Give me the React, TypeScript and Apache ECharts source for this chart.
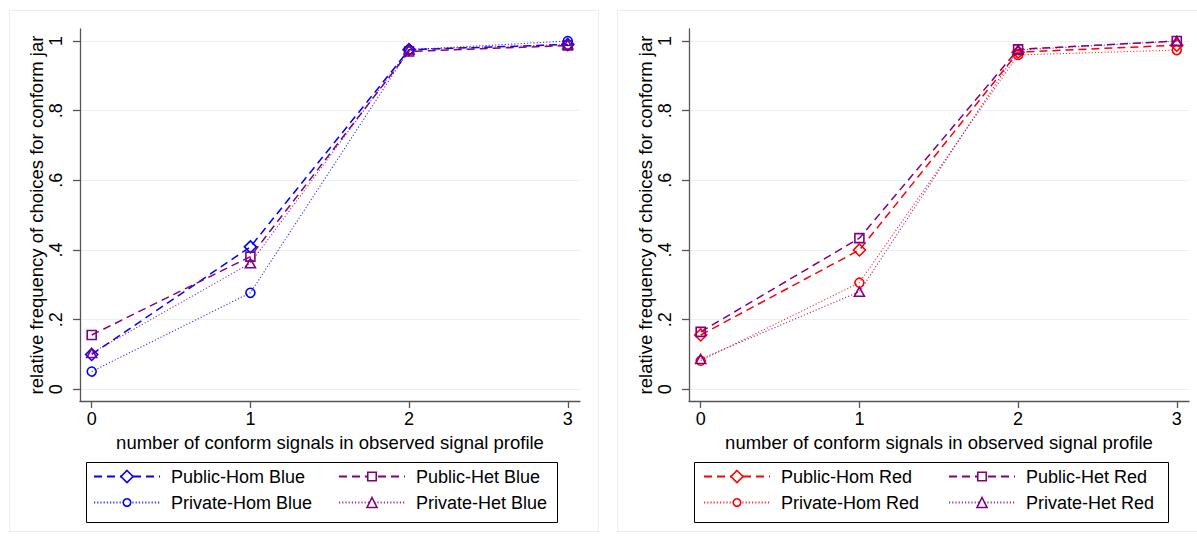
import React, { useEffect, useRef } from "react";
import * as echarts from "echarts";

// x positions (number of conform signals)
const xValues = [0, 1, 2, 3];
const xTicks = [0, 1, 2, 3];
const yTicks = [0, 0.2, 0.4, 0.6, 0.8, 1];

// Left panel (Blue)
const pubHomBlue = [0.1, 0.409, 0.975, 0.99];
const pubHetBlue = [0.156, 0.381, 0.97, 0.987];
const privHomBlue = [0.051, 0.277, 0.975, 1.0];
const privHetBlue = [0.104, 0.362, 0.976, 0.99];

// Right panel (Red)
const pubHomRed = [0.156, 0.4, 0.968, 0.988];
const pubHetRed = [0.165, 0.434, 0.976, 1.0];
const privHomRed = [0.082, 0.306, 0.96, 0.974];
const privHetRed = [0.087, 0.28, 0.974, 1.0];

const BLUE = "#0000ff";
const RED = "#ff0000";
const PURPLE = "#800080";
const FONT = "Liberation Sans, Arial, sans-serif";

const xTitle = "number of conform signals in observed signal profile";
const yTitle = "relative frequency of choices for conform jar";

type SDef = {
  name: string;
  values: number[];
  color: string;
  dash: "dash" | "dot";
  symbol: string;
  size: number | number[];
  legendSize: number;
  panel: number;
  row: number;
  col: number;
};

const seriesDefs: SDef[] = [
  { name: "Public-Hom Blue", values: pubHomBlue, color: BLUE, dash: "dash", symbol: "diamond", size: 12, legendSize: 12, panel: 0, row: 0, col: 0 },
  { name: "Public-Het Blue", values: pubHetBlue, color: PURPLE, dash: "dash", symbol: "rect", size: 9, legendSize: 8.5, panel: 0, row: 0, col: 1 },
  { name: "Private-Hom Blue", values: privHomBlue, color: BLUE, dash: "dot", symbol: "circle", size: 9, legendSize: 7.5, panel: 0, row: 1, col: 0 },
  { name: "Private-Het Blue", values: privHetBlue, color: PURPLE, dash: "dot", symbol: "triangle", size: [10, 9], legendSize: 10, panel: 0, row: 1, col: 1 },
  { name: "Public-Hom Red", values: pubHomRed, color: RED, dash: "dash", symbol: "diamond", size: 12, legendSize: 12, panel: 1, row: 0, col: 0 },
  { name: "Public-Het Red", values: pubHetRed, color: PURPLE, dash: "dash", symbol: "rect", size: 9, legendSize: 8.5, panel: 1, row: 0, col: 1 },
  { name: "Private-Hom Red", values: privHomRed, color: RED, dash: "dot", symbol: "circle", size: 9, legendSize: 7.5, panel: 1, row: 1, col: 0 },
  { name: "Private-Het Red", values: privHetRed, color: PURPLE, dash: "dot", symbol: "triangle", size: [10, 9], legendSize: 10, panel: 1, row: 1, col: 1 },
];

const panels = [
  { gridLeft: 80, legendBox: [86, 462, 471, 60], legendCols: [93, 338], border: 9 },
  { gridLeft: 689, legendBox: [694, 462, 474, 60], legendCols: [703, 948], border: 617 },
];
const legendRows = [478, 504];

const yFmt = (v: number) => {
  if (Math.abs(v) < 1e-9) return "0";
  if (Math.abs(v - 1) < 1e-9) return "1";
  return "." + Math.round(v * 10);
};

export default function App() {
  const ref = useRef<HTMLDivElement>(null);
  useEffect(() => {
    if (!ref.current) return;
    const chart = echarts.init(ref.current, null, { renderer: "svg" });
    const axisLine = { show: true, onZero: false, lineStyle: { color: "#555", width: 1.3 } };
    const grids = panels.map((p) => ({ left: p.gridLeft, top: 29, width: 500, height: 372 }));
    const xAxes = panels.map((_, i) => ({
      type: "value",
      gridIndex: i,
      min: -0.0737,
      max: 3.077,
      axisLine,
      axisTick: { show: true, customValues: xTicks, length: 7, lineStyle: { color: "#555", width: 1.3 } },
      axisLabel: { customValues: xTicks, fontSize: 18, color: "#000", margin: 9, fontFamily: FONT },
      splitLine: { show: false },
      name: xTitle,
      nameLocation: "middle",
      nameGap: 30,
      nameTextStyle: { fontSize: 18.5, color: "#000", fontFamily: FONT },
    }));
    const yAxes = panels.map((_, i) => ({
      type: "value",
      gridIndex: i,
      min: -0.0336,
      max: 1.0345,
      axisLine,
      axisTick: { show: true, customValues: yTicks, length: 7, lineStyle: { color: "#555", width: 1.3 } },
      axisLabel: { customValues: yTicks, fontSize: 18, color: "#000", margin: 15, rotate: 90, formatter: yFmt, fontFamily: FONT },
      splitLine: { show: true, lineStyle: { color: "#e9f1f2", width: 1.2 } },
      name: yTitle,
      nameLocation: "middle",
      nameGap: 34,
      nameRotate: 90,
      nameTextStyle: { fontSize: 18.5, color: "#000", fontFamily: FONT },
    }));
    const series = seriesDefs.map((s) => ({
      type: "line",
      name: s.name,
      xAxisIndex: s.panel,
      yAxisIndex: s.panel,
      data: xValues.map((x, k) => [x, s.values[k]]),
      symbol: s.symbol,
      symbolSize: s.size,
      showAllSymbol: true,
      silent: true,
      lineStyle: {
        color: s.color,
        width: s.dash === "dash" ? 1.5 : 1.1,
        type: s.dash === "dash" ? [8, 5] : [1.2, 2],
        opacity: s.dash === "dash" ? 1 : 0.8,
      },
      itemStyle: { color: "rgba(255,255,255,0)", borderColor: s.color, borderWidth: 1.6 },
    }));
    const legends = seriesDefs.map((s) => {
      const p = panels[s.panel];
      const ih = s.legendSize / 0.8;
      const cy = legendRows[s.row];
      return {
        show: true,
        left: p.legendCols[s.col],
        top: cy - 10.5,
        orient: "vertical",
        padding: 0,
        itemWidth: 66,
        itemHeight: ih,
        selectedMode: false,
        data: [{ name: s.name, itemStyle: { color: "#fff", borderColor: s.color, borderWidth: 1.6 } }],
        textStyle: { fontSize: 18, color: "#000", fontFamily: FONT, padding: [0, 0, 0, 6] },
      };
    });
    const graphic: any[] = [];
    panels.forEach((p) => {
      graphic.push({
        type: "rect",
        silent: true,
        z: -10,
        shape: { x: p.border + 0.5, y: 10.5, width: 589, height: 521 },
        style: { fill: "none", stroke: "#e6eeef", lineWidth: 1 },
      });
      const [bx, by, bw, bh] = p.legendBox;
      graphic.push({
        type: "rect",
        silent: true,
        shape: { x: bx + 0.5, y: by + 0.5, width: bw, height: bh },
        style: { fill: "none", stroke: "#000", lineWidth: 1 },
      });
    });
    chart.setOption({
      animation: false,
      backgroundColor: "#fff",
      textStyle: { fontFamily: FONT },
      grid: grids,
      xAxis: xAxes,
      yAxis: yAxes,
      legend: legends,
      series,
      graphic,
    } as any);
    return () => chart.dispose();
  }, []);
  return (
    <div
      ref={ref}
      style={{ position: "fixed", left: 0, top: 0, width: 1197, height: 541, background: "#fff" }}
    />
  );
}
